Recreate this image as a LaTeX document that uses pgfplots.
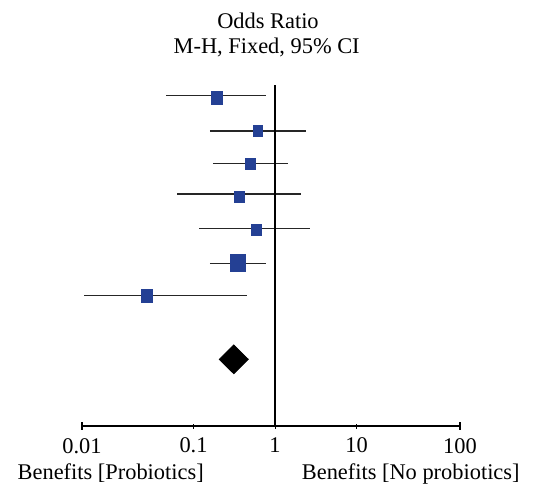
\documentclass[border=0pt]{standalone}
\usepackage{fontspec}
\setmainfont{Liberation Serif}
\usepackage{pgfplots}
\usepackage{pgfplotstable}
\pgfplotsset{compat=1.18}
\definecolor{sqblue}{RGB}{36,64,148}

% study rows: odds ratio, marker half size (pt)
\pgfplotstableread{
row  or      ms
1    0.196   2.75
2    0.624   2.25
3    0.493   2.5
4    0.362   2.5
5    0.585   2.5
6    0.355   3.75
7    0.0271  2.75
}\studies

\newcommand{\lbl}{\fontsize{11.2}{13}\selectfont}

\begin{document}
\begin{tikzpicture}
\useasboundingbox (-41pt,-31.5pt) rectangle (226.5pt,213pt);
\begin{axis}[
  at={(0pt,0pt)}, anchor=south west,
  scale only axis, width=189pt, height=170.5pt,
  xmode=log, xmin=0.00428, xmax=186.2,
  ymin=0.606, ymax=10.94, y dir=reverse,
  axis x line*=bottom, axis y line=none,
  x axis line style={-, line width=0.75pt},
  xtick={0.1,1,10}, xticklabels={0.1,1,10},
  extra x ticks={0.00428,186.2}, extra x tick labels={0.01,100},
  extra x tick style={major tick length=3.8pt, tick style={line width=0.85pt}},
  xminorticks=false,
  xtick align=center, major tick length=2.5pt,
  tick style={black, line width=0.5pt},
  xticklabel style={anchor=base, yshift=-12pt, font=\lbl},
  clip=false,
]
% confidence intervals
\addplot[black!85, line width=0.75pt] coordinates {(0.0460,0.93)(0.776,0.93)};
\addplot[black!85, line width=0.75pt] coordinates {(0.159,2.0)(2.38,2.0)};
\addplot[black!85, line width=0.75pt] coordinates {(0.173,2.99)(1.44,2.99)};
\addplot[black!85, line width=0.75pt] coordinates {(0.0633,3.91)(2.08,3.91)};
\addplot[black!85, line width=0.75pt] coordinates {(0.118,4.96)(2.69,4.96)};
\addplot[black!85, line width=0.75pt] coordinates {(0.159,6.02)(0.776,6.02)};
\addplot[black!85, line width=0.75pt] coordinates {(0.00457,6.99)(0.457,6.99)};
% line of no effect
\addplot[black, line width=1pt] coordinates {(1,0.606)(1,10.94)};
% study estimates
\addplot[scatter, only marks, mark=square*,
  scatter/use mapped color={draw=sqblue, fill=sqblue},
  visualization depends on={\thisrow{ms}\as\msize},
  scatter/@pre marker code/.append style={/tikz/mark size=\msize pt},
  mark options={yscale=1.15}]
  table[x=or, y=row] {\studies};
% pooled estimate
\addplot[fill=black, draw=black] coordinates
  {(0.207,8.92)(0.312,8.485)(0.470,8.92)(0.312,9.355)} -- cycle;
\end{axis}
\node[anchor=base, inner sep=0pt, font=\lbl] at (93pt,199pt) {Odds Ratio};
\node[anchor=base, inner sep=0pt, font=\lbl] at (92.35pt,186.35pt) {M-H, Fixed, 95\% CI};
\node[anchor=base west, inner sep=0pt, font=\lbl] at (-32.35pt,-26.5pt) {Benefits [Probiotics]};
\node[anchor=base east, inner sep=0pt, font=\lbl] at (219pt,-26.5pt) {Benefits [No probiotics]};
\end{tikzpicture}
\end{document}
